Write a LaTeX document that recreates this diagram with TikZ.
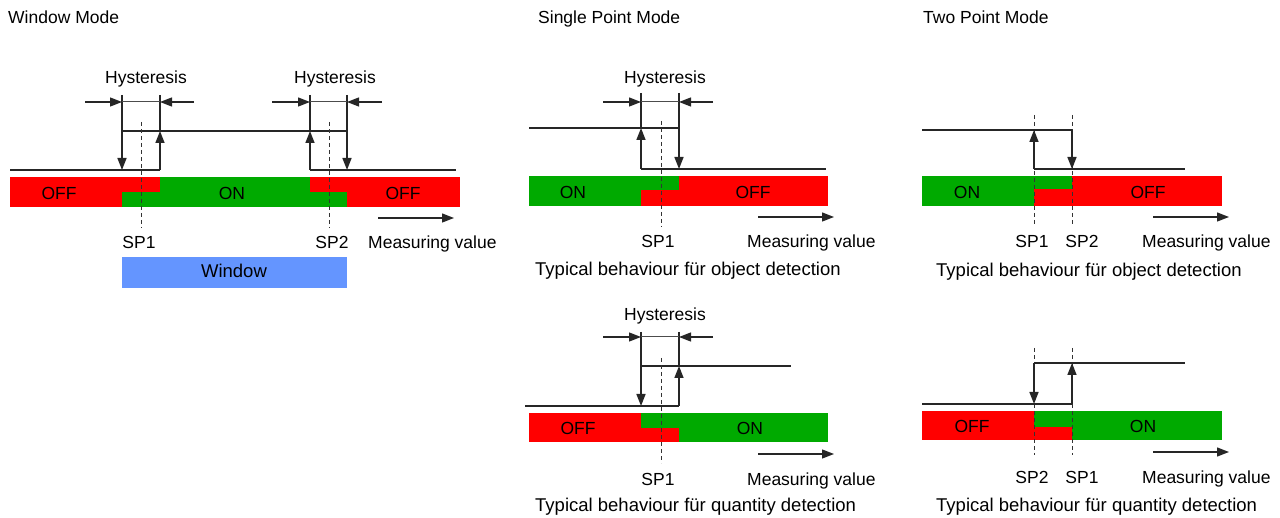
\documentclass[tikz,border=0pt]{standalone}
\usepackage{fontspec}
\setmainfont{Liberation Sans}
\usetikzlibrary{arrows.meta}
\definecolor{onG}{RGB}{0,170,0}
\definecolor{offR}{RGB}{255,0,0}
\definecolor{winB}{RGB}{100,149,255}
\tikzset{
  lvl/.style={line width=1.5pt, black!85},
  arr/.style={lvl, -{Triangle[length=12pt,width=9pt]}},
  hyarr/.style={line width=1.3pt, black!85, -{Triangle[length=12pt,width=9pt]}},
  sp/.style={line width=1pt, black!80, dash pattern=on 4pt off 3pt},
  txt/.style={font=\fontsize{17.5}{20}\selectfont, inner sep=0pt, text height=12.5pt, text depth=0pt},
  captxt/.style={txt, font=\fontsize{18.5}{21}\selectfont, anchor=west},
  ttl/.style={txt, anchor=west},
}
\begin{document}
\begin{tikzpicture}[x=1pt,y=-1pt]
\useasboundingbox (0,0) rectangle (1280,518);
% ================= Window Mode =================
\node[ttl] (t1) at (8,17) {Window Mode};
% bar
\fill[offR] (10,177) rectangle (460,207);
\fill[onG] (160,177) rectangle (310,207);
\fill[onG] (122,192) rectangle (347,207);
\node[txt] (w_off1) at (59,193) {OFF};
\node[txt] (w_on) at (232,193) {ON};
\node[txt] (w_off2) at (403,193) {OFF};
% levels
\draw[lvl] (10,170) -- (160,170);
\draw[lvl] (310,170) -- (456,170);
\draw[lvl] (122,131) -- (347,131);
\draw[arr] (122,95) -- (122,170);
\draw[lvl] (160,95) -- (160,131);
\draw[arr] (160,170) -- (160,131);
\draw[lvl] (310,95) -- (310,131);
\draw[arr] (310,170) -- (310,131);
\draw[arr] (347,95) -- (347,170);
% hysteresis
\node[txt] (w_h1) at (146,77) {Hysteresis};
\draw[hyarr] (85,102) -- (122,102);
\draw[hyarr] (194,102) -- (160,102);
\draw[line width=1pt, black!70] (122,102) -- (160,102);
\node[txt] (w_h2) at (335,77) {Hysteresis};
\draw[hyarr] (272,102) -- (310,102);
\draw[hyarr] (382,102) -- (347,102);
\draw[line width=1pt, black!70] (310,102) -- (347,102);
% set points
\draw[sp] (141,122) -- (141,228);
\draw[sp] (329,122) -- (329,228);
\node[txt] (w_sp1) at (139,242) {SP1};
\node[txt] (w_sp2) at (332,242) {SP2};
\draw[hyarr] (378,218) -- (454,218);
\node[txt,anchor=west] (w_mv) at (368,242) {Measuring value};
% window
\fill[winB] (122,257) rectangle (347,288);
\node[txt,font=\fontsize{18.5}{21}\selectfont] (w_win) at (234,271) {Window};

% ================= Single Point Mode: object =================
\node[ttl] (t2) at (538,17) {Single Point Mode};
\fill[offR] (529,176) rectangle (828,206);
\fill[onG] (529,176) rectangle (679,190);
\fill[onG] (529,176) rectangle (641,206);
\node[txt] (s1_on) at (573,192) {ON};
\node[txt] (s1_off) at (753,192) {OFF};
\draw[lvl] (529,128) -- (679,128);
\draw[lvl] (641,169) -- (826,169);
\draw[lvl] (641,93) -- (641,128);
\draw[arr] (641,169) -- (641,128);
\draw[arr] (679,93) -- (679,169);
\node[txt] (s1_h) at (665,77) {Hysteresis};
\draw[hyarr] (603,102) -- (641,102);
\draw[hyarr] (713,102) -- (679,102);
\draw[line width=1pt, black!70] (641,102) -- (679,102);
\draw[sp] (661,121) -- (661,227);
\node[txt] (s1_sp1) at (658,241) {SP1};
\draw[hyarr] (758,217) -- (834,217);
\node[txt,anchor=west] (s1_mv) at (747,241) {Measuring value};
\node[captxt] (s1_cap) at (535,269) {Typical behaviour für object detection};

% ================= Single Point Mode: quantity =================
\fill[onG] (529,413) rectangle (828,442);
\fill[offR] (529,428) rectangle (679,442);
\fill[offR] (529,413) rectangle (641,442);
\node[txt] (s2_off) at (578,428) {OFF};
\node[txt] (s2_on) at (750,428) {ON};
\draw[lvl] (641,366) -- (791,366);
\draw[lvl] (525,406) -- (679,406);
\draw[arr] (641,332) -- (641,406);
\draw[lvl] (679,332) -- (679,366);
\draw[arr] (679,406) -- (679,366);
\node[txt] (s2_h) at (665,314) {Hysteresis};
\draw[hyarr] (603,337) -- (641,337);
\draw[hyarr] (713,337) -- (679,337);
\draw[line width=1pt, black!70] (641,337) -- (679,337);
\draw[sp] (661,358) -- (661,463);
\node[txt] (s2_sp1) at (658,479) {SP1};
\draw[hyarr] (758,454) -- (834,454);
\node[txt,anchor=west] (s2_mv) at (747,479) {Measuring value};
\node[captxt] (s2_cap) at (535,505) {Typical behaviour für quantity detection};

% ================= Two Point Mode: object =================
\node[ttl] (t3) at (923,17) {Two Point Mode};
\fill[offR] (922,176) rectangle (1222,206);
\fill[onG] (922,176) rectangle (1072,189);
\fill[onG] (922,176) rectangle (1034,206);
\node[txt] (p1_on) at (967,192) {ON};
\node[txt] (p1_off) at (1148,192) {OFF};
\draw[sp] (1034,115) -- (1034,224);
\draw[sp] (1072,115) -- (1072,224);
\draw[lvl] (922,130) -- (1072,130);
\draw[lvl] (1034,169) -- (1185,169);
\draw[arr] (1034,169) -- (1034,130);
\draw[arr] (1072,130) -- (1072,169);
\node[txt] (p1_sp1) at (1032,241) {SP1};
\node[txt] (p1_sp2) at (1082,241) {SP2};
\draw[hyarr] (1153,217) -- (1229,217);
\node[txt,anchor=west] (p1_mv) at (1142,241) {Measuring value};
\node[captxt] (p1_cap) at (936,270) {Typical behaviour für object detection};

% ================= Two Point Mode: quantity =================
\fill[onG] (922,411) rectangle (1222,440);
\fill[offR] (922,427) rectangle (1072,440);
\fill[offR] (922,411) rectangle (1034,440);
\node[txt] (p2_off) at (972,426) {OFF};
\node[txt] (p2_on) at (1143,426) {ON};
\draw[sp] (1034,348) -- (1034,455);
\draw[sp] (1072,348) -- (1072,455);
\draw[lvl] (1034,363) -- (1185,363);
\draw[lvl] (922,404) -- (1072,404);
\draw[arr] (1034,363) -- (1034,404);
\draw[arr] (1072,404) -- (1072,363);
\node[txt] (p2_sp2) at (1032,477) {SP2};
\node[txt] (p2_sp1) at (1082,477) {SP1};
\draw[hyarr] (1153,452) -- (1229,452);
\node[txt,anchor=west] (p2_mv) at (1142,477) {Measuring value};
\node[captxt] (p2_cap) at (936,505) {Typical behaviour für quantity detection};
\end{tikzpicture}
\end{document}
